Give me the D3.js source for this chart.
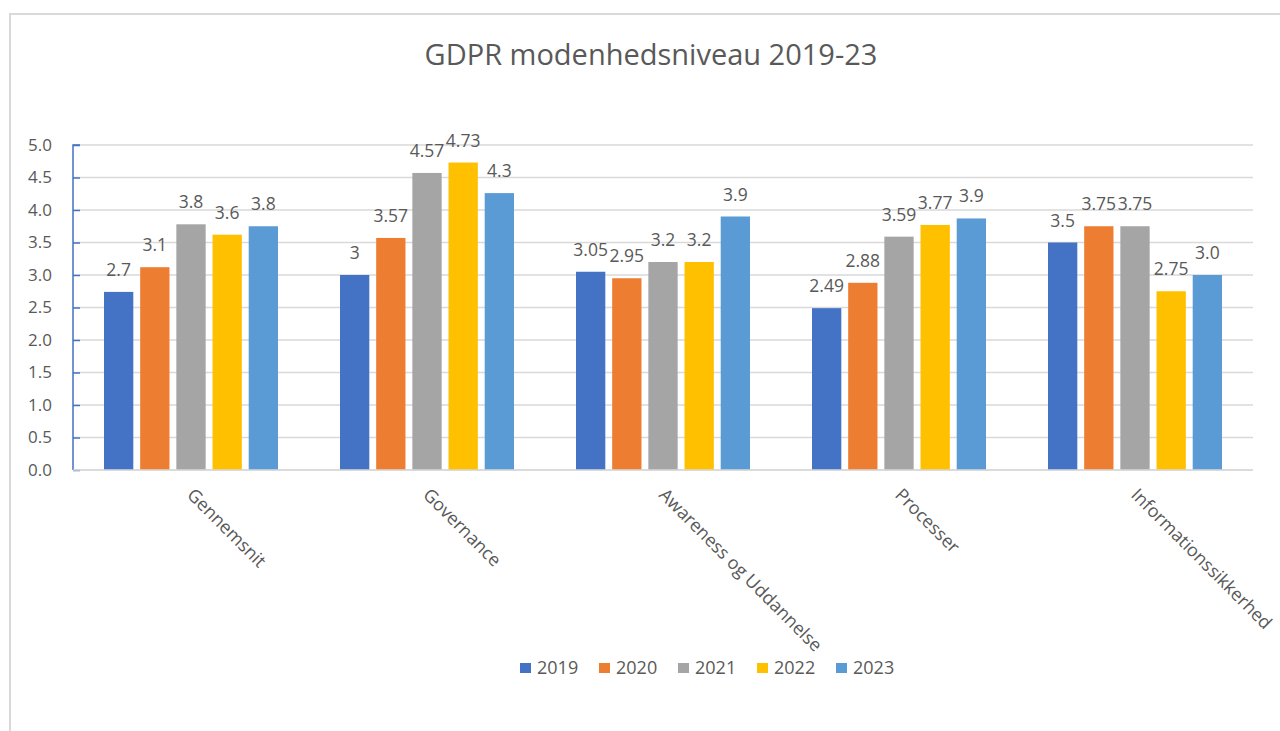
<!DOCTYPE html>
<html>
<head>
<meta charset="utf-8">
<script src="https://cdn.jsdelivr.net/npm/d3@7"></script>
<style>
  body { margin: 0; background: #fff; }
  svg { font-family: "Open Sans", "Noto Sans", sans-serif; }
</style>
</head>
<body>
<div id="chart"></div>
<script>
// Data
const categories = ["Gennemsnit", "Governance", "Awareness og Uddannelse", "Processer", "Informationssikkerhed"];
const years = ["2019", "2020", "2021", "2022", "2023"];
const colors = ["#4472C4", "#ED7D31", "#A5A5A5", "#FFC000", "#5B9BD5"];

// values per year (one array per series, ordered like categories)
const v2019 = [2.74, 3.0, 3.05, 2.49, 3.5];
const v2020 = [3.12, 3.57, 2.95, 2.88, 3.75];
const v2021 = [3.78, 4.57, 3.2, 3.59, 3.75];
const v2022 = [3.62, 4.73, 3.2, 3.77, 2.75];
const v2023 = [3.75, 4.26, 3.9, 3.87, 3.0];

// labels as printed on the chart
const l2019 = ["2.7", "3", "3.05", "2.49", "3.5"];
const l2020 = ["3.1", "3.57", "2.95", "2.88", "3.75"];
const l2021 = ["3.8", "4.57", "3.2", "3.59", "3.75"];
const l2022 = ["3.6", "4.73", "3.2", "3.77", "2.75"];
const l2023 = ["3.8", "4.3", "3.9", "3.9", "3.0"];

const yTicks = [0, 0.5, 1, 1.5, 2, 2.5, 3, 3.5, 4, 4.5, 5];

const seriesValues = [v2019, v2020, v2021, v2022, v2023];
const seriesLabels = [l2019, l2020, l2021, l2022, l2023];

const width = 1280, height = 731;
const margin = { top: 145, right: 27, bottom: 261, left: 73 };
const textColor = "#595959";

const svg = d3.select("#chart").append("svg")
  .attr("width", width)
  .attr("height", height);

// frame
svg.append("rect")
  .attr("x", 10).attr("y", 14)
  .attr("width", width + 20).attr("height", height + 20)
  .attr("fill", "#fff")
  .attr("stroke", "#d9d9d9")
  .attr("stroke-width", 2);

// title
svg.append("text")
  .attr("x", 651).attr("y", 65)
  .attr("text-anchor", "middle")
  .attr("fill", textColor)
  .style("font-size", "29px")
  .text("GDPR modenhedsniveau 2019-23");

const x0 = d3.scaleBand()
  .domain(categories)
  .range([margin.left, width - margin.right])
  .paddingInner(0)
  .paddingOuter(0);

const x1 = d3.scaleBand()
  .domain(years)
  .range([31, x0.bandwidth() - 31])
  .paddingInner(0.19);

const y = d3.scaleLinear()
  .domain([0, 5])
  .range([height - margin.bottom, margin.top]);

// gridlines
svg.append("g")
  .selectAll("line")
  .data(yTicks)
  .enter()
  .append("line")
  .attr("x1", margin.left)
  .attr("x2", width - margin.right)
  .attr("y1", d => y(d))
  .attr("y2", d => y(d))
  .attr("stroke", "#d9d9d9")
  .attr("stroke-width", 1.5);

// y axis
const yAxis = svg.append("g")
  .attr("transform", `translate(${margin.left},0)`)
  .call(d3.axisRight(y).tickValues(yTicks).tickSize(7).tickFormat(""));
yAxis.selectAll("path, line").attr("stroke", "#4472C4").attr("stroke-width", 1.5);
yAxis.select(".domain").attr("d", `M7,${y(5)}H0V${y(0)}`);

svg.append("g")
  .selectAll("text")
  .data(yTicks)
  .enter()
  .append("text")
  .attr("x", 52)
  .attr("y", d => y(d))
  .attr("dy", "0.35em")
  .attr("text-anchor", "end")
  .attr("fill", textColor)
  .style("font-size", "17px")
  .text(d => d.toFixed(1));

// bars
const groups = svg.append("g")
  .selectAll("g")
  .data(categories)
  .enter()
  .append("g")
  .attr("transform", d => `translate(${x0(d)},0)`);

groups.selectAll("rect")
  .data((c, ci) => years.map((yr, si) => ({ yr, si, v: seriesValues[si][ci], l: seriesLabels[si][ci] })))
  .enter()
  .append("rect")
  .attr("x", d => x1(d.yr))
  .attr("width", x1.bandwidth())
  .attr("y", d => y(d.v))
  .attr("height", d => y(0) - y(d.v))
  .attr("fill", d => colors[d.si]);

groups.selectAll("text")
  .data((c, ci) => years.map((yr, si) => ({ yr, si, v: seriesValues[si][ci], l: seriesLabels[si][ci] })))
  .enter()
  .append("text")
  .attr("x", d => x1(d.yr) + x1.bandwidth() / 2)
  .attr("y", d => y(d.v) - 16)
  .attr("text-anchor", "middle")
  .attr("fill", textColor)
  .style("font-size", "17.5px")
  .text(d => d.l);

// x axis line
svg.append("line")
  .attr("x1", margin.left)
  .attr("x2", width - margin.right)
  .attr("y1", y(0))
  .attr("y2", y(0))
  .attr("stroke", "#d9d9d9")
  .attr("stroke-width", 1.5);

// category labels
svg.append("g")
  .selectAll("text")
  .data(categories)
  .enter()
  .append("text")
  .attr("transform", d => `translate(${x0(d) + x0.bandwidth() / 2 - 5},${y(0) + 26}) rotate(45)`)
  .attr("fill", textColor)
  .style("font-size", "18px")
  .text(d => d);

// legend
const legend = svg.append("g")
  .selectAll("g")
  .data(years)
  .enter()
  .append("g")
  .attr("transform", (d, i) => `translate(${520 + i * 79},668)`);

legend.append("rect")
  .attr("x", 0).attr("y", -5)
  .attr("width", 11).attr("height", 10)
  .attr("fill", (d, i) => colors[i]);

legend.append("text")
  .attr("x", 17)
  .attr("dy", "0.35em")
  .attr("fill", textColor)
  .style("font-size", "18px")
  .text(d => d);
</script>
</body>
</html>
